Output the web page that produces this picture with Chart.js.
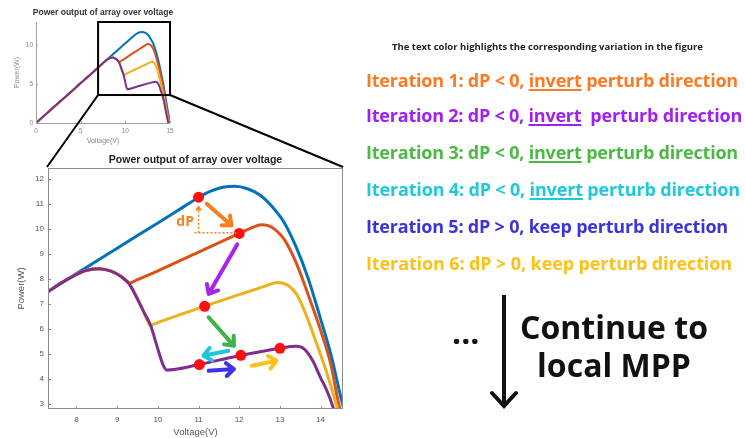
<!DOCTYPE html>
<html>
<head>
<meta charset="utf-8">
<script src="https://cdn.jsdelivr.net/npm/chart.js@4.4.0/dist/chart.umd.min.js"></script>
<style>
  html, body { margin: 0; padding: 0; background: #fff; }
  #wrap { position: relative; width: 745px; height: 438px; overflow: hidden; font-family: "Open Sans", sans-serif; }
  #wrap canvas { position: absolute; left: 0; top: 0; }
  .note { position: absolute; white-space: nowrap; font-weight: 700; line-height: 22px; font-size: 18px; left: 366px; }
  .note u { text-underline-offset: 2px; text-decoration-thickness: 1.5px; }
  #hdr { position: absolute; left: 392px; top: 40px; font-size: 9.5px; font-weight: 700; color: #222; white-space: nowrap; }
  #cont { position: absolute; left: 504px; width: 220px; top: 308px; text-align: center; font-size: 32px; font-weight: 700; line-height: 38px; color: #111; }
  #dots { position: absolute; left: 452px; top: 313px; font-size: 32px; font-weight: 700; line-height: 38px; color: #111; }
  #down { position: absolute; left: 0; top: 0; }
</style>
</head>
<body>
<div id="wrap">
  <canvas id="smallChart" width="745" height="438"></canvas>
  <canvas id="bigChart" width="745" height="438"></canvas>
  <div id="hdr" data-w="311">The text color highlights the corresponding variation in the figure</div>
  <div class="note" data-w="372" style="top:69px;color:#fb7a24">Iteration 1: dP &lt; 0, <u>invert</u> perturb direction</div>
  <div class="note" data-w="376" style="top:104px;color:#a020f0">Iteration 2: dP &lt; 0, <u>invert</u>&nbsp; perturb direction</div>
  <div class="note" data-w="372" style="top:141px;color:#4cb944">Iteration 3: dP &lt; 0, <u>invert</u> perturb direction</div>
  <div class="note" data-w="374" style="top:178px;color:#1fc8da">Iteration 4: dP &lt; 0, <u>invert</u> perturb direction</div>
  <div class="note" data-w="362" style="top:215px;color:#3c33d9">Iteration 5: dP &gt; 0, keep perturb direction</div>
  <div class="note" data-w="366" style="top:252px;color:#ffc117">Iteration 6: dP &gt; 0, keep perturb direction</div>
  <div id="dots">...</div>
  <div id="cont">Continue to<br>local MPP</div>
  <svg id="down" width="745" height="438">
    <line x1="504" y1="295" x2="504" y2="405" stroke="#111" stroke-width="4"/>
    <polyline points="492,393 504,406 516,393" fill="none" stroke="#111" stroke-width="4" stroke-linecap="round"/>
  </svg>
</div>
<script>
// P-V curves (voltage in V, power in W)
const blueV = [0, 2, 4, 6, 7.3, 7.6, 8, 9, 10, 10.5, 11, 11.3, 11.6, 11.9, 12.2, 12.5, 12.8, 13.1, 13.4, 13.7, 14.0, 14.25, 14.5, 14.75, 15.0];
const blueP = [0, 2.05, 4.1, 6.15, 7.5, 7.82, 8.22, 9.24, 10.25, 10.76, 11.27, 11.52, 11.68, 11.72, 11.62, 11.38, 10.92, 10.28, 9.28, 8.0, 6.4, 5.0, 3.25, 1.6, 0];

const orangeV = [0, 2, 4, 6, 7.3, 7.6, 7.9, 8.2, 8.55, 8.85, 9.1, 9.32, 9.45, 10, 11, 12, 12.3, 12.55, 12.8, 13.1, 13.4, 13.7, 14.0, 14.25, 14.45, 14.7, 14.92];
const orangeP = [0, 2.05, 4.1, 6.15, 7.5, 7.82, 8.1, 8.33, 8.42, 8.32, 8.1, 7.85, 7.94, 8.33, 9.08, 9.83, 10.05, 10.18, 10.08, 9.6, 8.65, 7.35, 5.95, 4.6, 2.95, 1.4, 0];

const yellowV = [0, 2, 4, 6, 7.3, 7.6, 7.9, 8.2, 8.55, 8.85, 9.1, 9.3, 9.5, 9.65, 9.82, 9.95, 10.5, 11.15, 12.0, 12.6, 12.95, 13.2, 13.4, 13.6, 13.85, 14.1, 14.4, 14.6, 14.85];
const yellowP = [0, 2.05, 4.1, 6.15, 7.5, 7.82, 8.1, 8.33, 8.42, 8.32, 8.1, 7.8, 7.2, 6.7, 6.15, 6.23, 6.55, 6.92, 7.38, 7.7, 7.87, 7.75, 7.42, 6.75, 5.65, 4.5, 2.9, 1.6, 0];

const purpleV = [0, 2, 4, 6, 7.3, 7.6, 7.9, 8.2, 8.55, 8.85, 9.1, 9.3, 9.5, 9.65, 9.82, 10.0, 10.12, 10.22, 10.4, 11.0, 12.0, 13.0, 13.4, 13.6, 13.8, 14.0, 14.15, 14.3, 14.5, 14.8];
const purpleP = [0, 2.05, 4.1, 6.15, 7.5, 7.82, 8.1, 8.33, 8.42, 8.32, 8.1, 7.8, 7.2, 6.7, 6.15, 5.2, 4.6, 4.36, 4.38, 4.58, 4.93, 5.23, 5.31, 5.2, 4.75, 4.05, 3.55, 2.9, 1.7, 0];

// operating points of the P&O iterations
const dotV = [11.0, 12.0, 11.15, 11.02, 12.04, 13.0];
const dotP = [11.28, 9.83, 6.91, 4.58, 4.95, 5.23];

// perturbation arrows (from -> to)
const arrowFromV = [11.2, 11.95, 11.25, 11.73, 11.25, 12.31];
const arrowFromP = [11.02, 9.39, 6.47, 5.13, 4.33, 4.53];
const arrowToV = [11.81, 11.25, 11.87, 11.12, 11.87, 12.92];
const arrowToP = [10.15, 7.41, 5.33, 4.93, 4.4, 4.73];
const arrowColors = ['#f7801e', '#a524f0', '#3fb34a', '#21c6dd', '#3b34e6', '#ffc11a'];

// dP marker
const dPV = 11.0, dPTop = 10.95, dPBase = 9.86, dPEnd = 11.95;

const xTicksBig = [8, 9, 10, 11, 12, 13, 14];
const chartTitle = 'Power output of array over voltage';
// zoomed window drawn on the small chart
const zoomBox = { v0: 6.95, v1: 15, p0: 3.6, p1: 13 };

const curveColors = ['#0072BD', '#D95319', '#EDB120', '#7E2F8E'];

function pts(vs, ps) { return vs.map((v, i) => ({ x: v, y: ps[i] })); }

function curves(width) {
    const sets = [[blueV, blueP], [orangeV, orangeP], [yellowV, yellowP], [purpleV, purpleP]];
    return sets.map((s, i) => ({
        data: pts(s[0], s[1]),
        borderColor: curveColors[i],
        borderWidth: width,
        pointRadius: 0,
        cubicInterpolationMode: 'monotone',
        fill: false,
        order: 4 - i + 1,
    }));
}

function inwardTicks(chart, len, color) {
    const { ctx, chartArea: a, scales: { x, y } } = chart;
    ctx.save();
    ctx.strokeStyle = color;
    ctx.lineWidth = 1;
    ctx.beginPath();
    x.ticks.forEach(t => {
        const px = Math.round(x.getPixelForValue(t.value)) + 0.5;
        ctx.moveTo(px, a.bottom); ctx.lineTo(px, a.bottom - len);
    });
    y.ticks.forEach(t => {
        const py = Math.round(y.getPixelForValue(t.value)) + 0.5;
        ctx.moveTo(a.left, py); ctx.lineTo(a.left + len, py);
    });
    ctx.stroke();
    ctx.restore();
}

const smallDecor = {
    id: 'smallDecor',
    afterDraw(chart) {
        const { ctx, chartArea: a, scales: { x, y } } = chart;
        ctx.save();
        ctx.strokeStyle = '#a0a0a0';
        ctx.lineWidth = 1;
        ctx.beginPath();
        ctx.moveTo(a.left + 0.5, a.top);
        ctx.lineTo(a.left + 0.5, a.bottom + 0.5);
        ctx.lineTo(a.right, a.bottom + 0.5);
        ctx.stroke();
        ctx.restore();
        inwardTicks(chart, 2, '#a0a0a0');
        ctx.save();
        ctx.fillStyle = '#333';
        ctx.font = 'bold 8.5px "Liberation Sans", Arial, sans-serif';
        ctx.textAlign = 'center';
        ctx.textBaseline = 'middle';
        ctx.fillText(chartTitle, (a.left + a.right) / 2, 13);
        // zoom window
        ctx.strokeStyle = '#000';
        ctx.lineWidth = 2;
        const l = x.getPixelForValue(zoomBox.v0), r = x.getPixelForValue(zoomBox.v1);
        const t = y.getPixelForValue(zoomBox.p1), b = y.getPixelForValue(zoomBox.p0);
        ctx.strokeRect(l, t, r - l, b - t);
        ctx.restore();
    }
};

const smallChart = new Chart(document.getElementById('smallChart'), {
    type: 'line',
    data: { datasets: curves(2) },
    options: {
        responsive: false,
        animation: false,
        layout: { padding: { left: 10, right: 575, top: 22, bottom: 291 } },
        scales: {
            x: {
                type: 'linear', min: 0, max: 15,
                ticks: { stepSize: 5, font: { size: 6.5, family: '"Liberation Sans", Arial' }, color: '#8a8a8a', padding: 4, maxRotation: 0 },
                grid: { display: false, drawTicks: false },
                border: { display: false },
                title: { display: true, text: 'Voltage(V)', font: { size: 7, family: '"Liberation Sans", Arial' }, color: '#8a8a8a', padding: { top: 0, bottom: 2 } },
                afterFit(s) { s.height = 24; }
            },
            y: {
                min: 0, max: 13,
                ticks: { stepSize: 5, includeBounds: false, font: { size: 6.5, family: '"Liberation Sans", Arial' }, color: '#8a8a8a', padding: 3 },
                grid: { display: false, drawTicks: false },
                border: { display: false },
                title: { display: true, text: 'Power(W)', font: { size: 7, family: '"Liberation Sans", Arial' }, color: '#8a8a8a', padding: { top: 3, bottom: 0 } },
                afterFit(s) { s.width = 26; }
            }
        },
        plugins: { legend: { display: false }, tooltip: { enabled: false } }
    },
    plugins: [smallDecor]
});

function drawArrow(ctx, x1, y1, x2, y2, color, w, head) {
    const ang = Math.atan2(y2 - y1, x2 - x1);
    ctx.save();
    ctx.strokeStyle = color;
    ctx.lineWidth = w;
    ctx.lineCap = 'round';
    ctx.lineJoin = 'round';
    ctx.beginPath();
    ctx.moveTo(x1, y1); ctx.lineTo(x2, y2);
    ctx.moveTo(x2 - head * Math.cos(ang - 0.7), y2 - head * Math.sin(ang - 0.7));
    ctx.lineTo(x2, y2);
    ctx.lineTo(x2 - head * Math.cos(ang + 0.7), y2 - head * Math.sin(ang + 0.7));
    ctx.stroke();
    ctx.restore();
}

const bigDecor = {
    id: 'bigDecor',
    afterDatasetsDraw(chart) {
        const { ctx, scales: { x, y } } = chart;
        // dP dotted lines
        const vx = x.getPixelForValue(dPV);
        ctx.save();
        ctx.strokeStyle = '#f7801e';
        ctx.fillStyle = '#f7801e';
        ctx.lineWidth = 1.5;
        ctx.setLineDash([2, 2]);
        ctx.beginPath();
        ctx.moveTo(vx, y.getPixelForValue(dPBase));
        ctx.lineTo(vx, y.getPixelForValue(dPTop) + 4);
        ctx.moveTo(x.getPixelForValue(dPV - 0.1), y.getPixelForValue(dPBase));
        ctx.lineTo(x.getPixelForValue(dPEnd), y.getPixelForValue(dPBase));
        ctx.stroke();
        ctx.setLineDash([]);
        const ty = y.getPixelForValue(dPTop);
        ctx.beginPath();
        ctx.moveTo(vx, ty); ctx.lineTo(vx - 3.5, ty + 5); ctx.lineTo(vx + 3.5, ty + 5); ctx.closePath();
        ctx.fill();
        ctx.font = 'bold 14px "Open Sans", sans-serif';
        ctx.textAlign = 'center';
        ctx.textBaseline = 'middle';
        ctx.fillText('dP', x.getPixelForValue(10.67), y.getPixelForValue(10.29));
        ctx.restore();
        arrowColors.forEach((c, i) => {
            drawArrow(ctx, x.getPixelForValue(arrowFromV[i]), y.getPixelForValue(arrowFromP[i]),
                x.getPixelForValue(arrowToV[i]), y.getPixelForValue(arrowToP[i]), c, 4, 10);
        });
    },
    afterDraw(chart) {
        const { ctx, chartArea: a } = chart;
        ctx.save();
        ctx.strokeStyle = '#8c8c8c';
        ctx.lineWidth = 1;
        ctx.strokeRect(a.left + 0.5, a.top + 0.5, a.width - 1, a.height - 1);
        ctx.restore();
        inwardTicks(chart, 3, '#8c8c8c');
        ctx.save();
        ctx.fillStyle = '#222';
        ctx.font = 'bold 10.5px "Liberation Sans", Arial, sans-serif';
        ctx.textAlign = 'center';
        ctx.textBaseline = 'middle';
        ctx.fillText(chartTitle, (a.left + a.right) / 2, a.top - 8);
        // lines from the zoom window to the enlarged plot
        const sx = smallChart.scales.x, sy = smallChart.scales.y;
        ctx.strokeStyle = '#000';
        ctx.lineWidth = 2;
        ctx.beginPath();
        ctx.moveTo(sx.getPixelForValue(zoomBox.v0), sy.getPixelForValue(zoomBox.p0));
        ctx.lineTo(a.left - 1, a.top - 1);
        ctx.moveTo(sx.getPixelForValue(zoomBox.v1), sy.getPixelForValue(zoomBox.p0));
        ctx.lineTo(a.right, a.top - 1);
        ctx.stroke();
        ctx.restore();
    }
};

const bigSets = curves(3);
bigSets.push({
    type: 'scatter',
    data: pts(dotV, dotP),
    showLine: false,
    pointRadius: 5.5,
    pointBackgroundColor: '#ff1010',
    pointBorderWidth: 0,
    order: 0,
});

const bigChart = new Chart(document.getElementById('bigChart'), {
    type: 'line',
    data: { datasets: bigSets },
    options: {
        responsive: false,
        animation: false,
        layout: { padding: { left: 10, right: 402, top: 168, bottom: 0 } },
        scales: {
            x: {
                type: 'linear', min: 7.3, max: 14.55,
                afterBuildTicks(s) { s.ticks = xTicksBig.map(v => ({ value: v })); },
                ticks: { font: { size: 8, family: '"Liberation Sans", Arial' }, color: '#555', padding: 6, maxRotation: 0 },
                grid: { display: false, drawTicks: false },
                border: { display: false },
                title: { display: true, text: 'Voltage(V)', font: { size: 9.5, family: '"Liberation Sans", Arial' }, color: '#555', padding: { top: 0, bottom: 0 } },
                afterFit(s) { s.height = 29; }
            },
            y: {
                min: 2.8, max: 12.45,
                ticks: { stepSize: 1, includeBounds: false, font: { size: 8, family: '"Liberation Sans", Arial' }, color: '#555', padding: 4 },
                grid: { display: false, drawTicks: false },
                border: { display: false },
                title: { display: true, text: 'Power(W)', font: { size: 9.5, family: '"Liberation Sans", Arial' }, color: '#555', padding: { top: 6, bottom: 0 } },
                afterFit(s) { s.width = 38; }
            }
        },
        plugins: { legend: { display: false }, tooltip: { enabled: false } }
    },
    plugins: [bigDecor]
});

// squeeze the right-hand notes to the widths seen in the figure
document.querySelectorAll('[data-w]').forEach(el => {
    const target = +el.dataset.w;
    const w = el.getBoundingClientRect().width;
    const n = el.textContent.length;
    el.style.letterSpacing = ((target - w) / n).toFixed(3) + 'px';
});
</script>
</body>
</html>
